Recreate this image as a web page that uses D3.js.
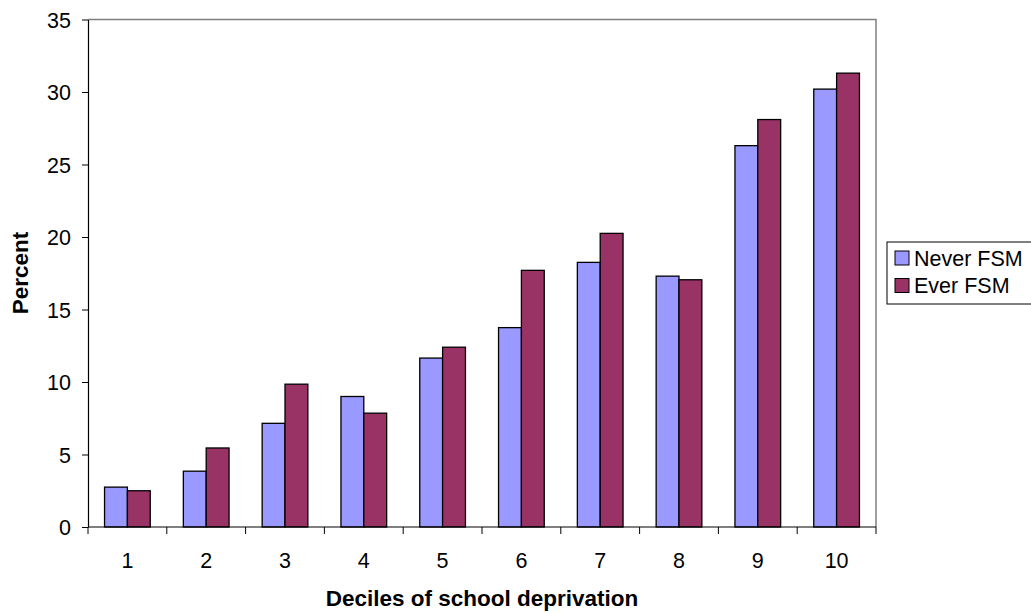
<!DOCTYPE html>
<html>
<head>
<meta charset="utf-8">
<script src="https://cdn.jsdelivr.net/npm/d3@7"></script>
<style>
  html, body { margin: 0; padding: 0; background: #fff; }
  svg { display: block; font-family: "Liberation Sans", Arial, sans-serif; }
</style>
</head>
<body>
<svg id="chart" width="1031" height="613"></svg>
<script>
// Share of pupils by decile of school deprivation
const deciles = ["1", "2", "3", "4", "5", "6", "7", "8", "9", "10"];
const seriesNames = ["Never FSM", "Ever FSM"];
const neverFSM = [2.75, 3.85, 7.15, 9.0, 11.65, 13.75, 18.25, 17.3, 26.3, 30.2];
const everFSM  = [2.5, 5.45, 9.85, 7.85, 12.4, 17.7, 20.25, 17.05, 28.1, 31.3];
const yTicks = [0, 5, 10, 15, 20, 25, 30, 35];
const colors = ["#9999ff", "#993366"];

const svg = d3.select("#chart");
const plot = { left: 88, right: 876, top: 19.5, bottom: 527 };
const labelSize = 21.5;
const titleSize = 22.5;

const x = d3.scaleBand().domain(deciles).range([plot.left, plot.right]).padding(0);
const groupWidth = x.bandwidth() * 0.58;
const inner = d3.scaleBand().domain(seriesNames).range([0, groupWidth]).padding(0);
const groupOffset = (x.bandwidth() - groupWidth) / 2;
const y = d3.scaleLinear().domain([0, 35]).range([plot.bottom, plot.top]);

// plot frame: grey top/right edges
svg.append("path")
  .attr("d", `M${plot.left},${plot.top}H${plot.right}V${plot.bottom}`)
  .attr("fill", "none").attr("stroke", "#808080").attr("stroke-width", 1.5);

// bars
const rows = deciles.map((d, i) => ({ decile: d, values: [neverFSM[i], everFSM[i]] }));
const groups = svg.append("g").selectAll("g").data(rows).join("g")
  .attr("transform", d => `translate(${x(d.decile) + groupOffset},0)`);
groups.selectAll("rect")
  .data(d => d.values.map((v, k) => ({ name: seriesNames[k], v, k })))
  .join("rect")
  .attr("x", d => inner(d.name))
  .attr("y", d => y(d.v))
  .attr("width", inner.bandwidth())
  .attr("height", d => y(0) - y(d.v))
  .attr("fill", d => colors[d.k])
  .attr("stroke", "#000").attr("stroke-width", 1.3);

// y axis
const yAxis = svg.append("g")
  .attr("transform", `translate(${plot.left},0)`)
  .call(d3.axisLeft(y).tickValues(yTicks).tickSize(6).tickPadding(11).tickSizeOuter(0));
yAxis.select(".domain").attr("stroke", "#000").attr("stroke-width", 1.2);
yAxis.selectAll(".tick line").attr("stroke", "#000");
yAxis.selectAll("text")
  .attr("font-size", labelSize).attr("fill", "#000")
  .attr("font-family", "Liberation Sans, Arial, sans-serif")
  .attr("dy", "0.36em");

// x axis with ticks at band boundaries
const xAxis = svg.append("g").attr("transform", `translate(0,${plot.bottom})`);
xAxis.append("line").attr("x1", plot.left).attr("x2", plot.right)
  .attr("stroke", "#000").attr("stroke-width", 1.2);
const bounds = deciles.map(d => x(d)).concat([plot.right]);
xAxis.selectAll(".bt").data(bounds).join("line")
  .attr("x1", d => d).attr("x2", d => d).attr("y1", 0).attr("y2", 7)
  .attr("stroke", "#000");
xAxis.selectAll(".lab").data(deciles).join("text")
  .attr("x", d => x(d) + x.bandwidth() / 2).attr("y", 41)
  .attr("text-anchor", "middle").attr("font-size", labelSize).text(d => d);

// axis titles
svg.append("text")
  .attr("x", (plot.left + plot.right) / 2).attr("y", 606)
  .attr("text-anchor", "middle").attr("font-size", titleSize).attr("font-weight", "bold")
  .text("Deciles of school deprivation");
svg.append("text")
  .attr("transform", "translate(28,273) rotate(-90)")
  .attr("text-anchor", "middle")
  .attr("font-size", titleSize).attr("font-weight", "bold")
  .text("Percent");

// legend
const legend = svg.append("g").attr("transform", "translate(887,242)");
legend.append("rect").attr("width", 170).attr("height", 62)
  .attr("fill", "#fff").attr("stroke", "#000").attr("stroke-width", 1);
seriesNames.forEach((name, i) => {
  const row = legend.append("g").attr("transform", `translate(8,${9 + i * 27.5})`);
  row.append("rect").attr("width", 14).attr("height", 14)
    .attr("fill", colors[i]).attr("stroke", "#000").attr("stroke-width", 1);
  row.append("text").attr("x", 19).attr("y", 7).attr("dy", "0.36em")
    .attr("font-size", labelSize).text(name);
});
</script>
</body>
</html>
